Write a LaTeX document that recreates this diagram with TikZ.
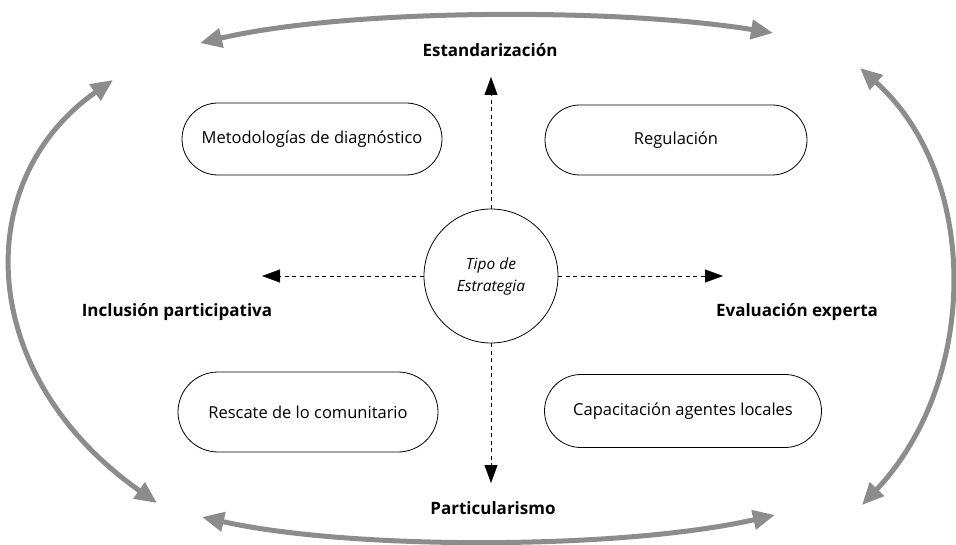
\documentclass[tikz,border=0pt]{standalone}
\usepackage{fontspec}
\setmainfont{Open Sans}
\usetikzlibrary{arrows.meta,shapes.misc}
\begin{document}
\begin{tikzpicture}[x=1pt, y=-1pt,
    every node/.style={font=\fontsize{16.5}{19}\selectfont, align=center},
    box/.style={draw, rounded rectangle, thick, inner sep=0pt},
    axis label/.style={font=\bfseries\fontsize{17}{20}\selectfont},
    axis/.style={dash pattern=on 4pt off 3.5pt, -{Triangle[length=18pt, width=13pt]}},
    swing/.style={line width=5pt, black!45, {Triangle[length=22pt, width=19pt]}-{Triangle[length=22pt, width=19pt]}}]
    \useasboundingbox (0,0) rectangle (956,545);
    % centre
    \node[draw, circle, thick, minimum size=134pt, font=\itshape\fontsize{15.5}{22}\selectfont] (tipo) at (491,276) {Tipo de\\Estrategia};
    % quadrants
    \node[box, minimum width=260pt, minimum height=72pt] (meto) at (312,139) {Metodologías de diagnóstico};
    \node[box, minimum width=262pt, minimum height=70pt] (regu) at (676,140) {Regulación};
    \node[box, minimum width=260pt, minimum height=80pt] (resc) at (308,412) {Rescate de lo comunitario};
    \node[box, minimum width=277pt, minimum height=73pt] (capa) at (683,411) {Capacitación agentes locales};
    % axis labels
    \node[axis label] (estand) at (490,50) {Estandarización};
    \node[axis label] (inclus) at (177,312) {Inclusión participativa};
    \node[axis label] (eval) at (797,312) {Evaluación experta};
    \node[axis label] (partic) at (493,508) {Particularismo};
    \coordinate (up) at (491,77);
    \coordinate (left) at (262,276);
    \coordinate (right) at (723,276);
    \coordinate (down) at (491,483);
    \draw[axis] (tipo) -- (up);
    \draw[axis] (tipo) -- (left);
    \draw[axis] (tipo) -- (right);
    \draw[axis] (tipo) -- (down);
    % outer arrows
    \coordinate (tl) at (200,43);
    \coordinate (tr) at (773,33);
    \coordinate (rt) at (860,68);
    \coordinate (rb) at (862,505);
    \coordinate (br) at (775,515);
    \coordinate (bl) at (202,517);
    \coordinate (lb) at (157,503);
    \coordinate (lt) at (113,80);
    \draw[swing] (tl) .. controls (350,8) and (620,8) .. (tr);
    \draw[swing] (rt) .. controls (980,175) and (980,380) .. (rb);
    \draw[swing] (br) .. controls (620,550) and (350,550) .. (bl);
    \draw[swing] (lb) .. controls (-25,375) and (-30,180) .. (lt);
\end{tikzpicture}
\end{document}
